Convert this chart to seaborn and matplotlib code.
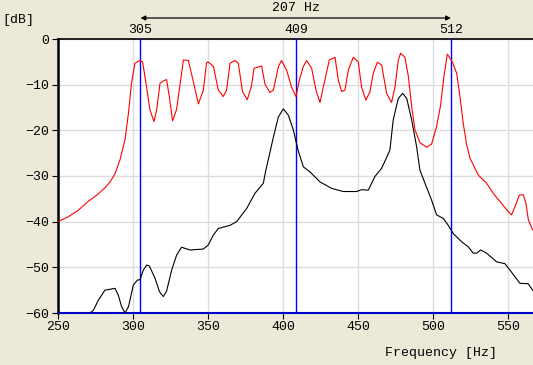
import numpy as np
import pandas as pd
import matplotlib
matplotlib.use("Agg")
import matplotlib.pyplot as plt
import matplotlib.transforms as mtransforms
import seaborn as sns

# ---- data ----
red_f = [250, 257, 263.5, 270, 275.8, 281, 284.7, 288, 291.3, 294.7,
         297, 299, 301.3, 304.7, 306.4, 309, 311.3, 314, 315.8, 318,
         321.3, 322.4, 324.2, 326.4, 329, 331.8, 333.6, 336.9, 340, 343.6,
         346.9, 349, 350, 353.6, 356.9, 360.2, 362.4, 364.7, 368, 370.2,
         373, 376.2, 379, 380.7, 385.8, 388, 391.3, 393.6, 396.9, 399,
         402.4, 405.8, 408.7, 410.9, 413.6, 415.8, 419.1, 422, 424.7, 426.9,
         430.9, 434.7, 436.9, 439.1, 441.3, 443.6, 446.9, 450.2, 452.4, 455.3,
         458, 460.2, 462.9, 465.8, 469.1, 472.4, 474.7, 476.9, 478.4, 481.3,
         483.6, 485.8, 488, 491.3, 495.8, 499.1, 502.4, 505.1, 507.3, 509.6,
         512.9, 515.8, 518, 520.2, 522.4, 524.7, 530.2, 535.8, 540.2, 544.7,
         550.2, 552.4, 554.7, 557.6, 560.2, 562, 563.6, 566.4]
red_db = [-40, -38.9, -37.5, -35.6, -34.2, -32.7, -31.3, -29.5, -26.5, -22,
          -16.2, -9.7, -5.3, -4.7, -5.0, -10.4, -15.5, -18.1, -15.5, -9.7,
          -9.0, -8.9, -12.6, -17.9, -15.5, -9.0, -4.6, -4.7, -9.0, -14.2,
          -11.2, -5.3, -5.0, -6.0, -11.2, -12.6, -11.2, -5.3, -4.7, -5.3,
          -11.5, -13.3, -10.3, -6.4, -5.9, -9.9, -11.7, -11.2, -6.1, -4.7,
          -6.8, -10.6, -12.6, -9.0, -6.0, -4.7, -6.4, -11.2, -13.9, -10.5,
          -4.6, -4.0, -9.0, -11.5, -11.2, -6.8, -4.0, -5.0, -10.5, -13.4,
          -11.5, -7.5, -5.1, -5.7, -11.9, -13.9, -10.5, -4.6, -3.1, -4.0,
          -8.2, -14.8, -19.9, -22.7, -23.7, -23.0, -19.2, -14.5, -8.2, -3.3,
          -5.0, -7.5, -12.6, -18.5, -23.0, -26.1, -29.8, -31.6, -33.8, -35.6,
          -37.8, -38.5, -36.7, -34.2, -34.1, -36.0, -39.6, -41.8]

black_f = [250, 252.5, 262, 271.3, 273.6, 276.9, 281.3, 284.7, 288, 290.2,
           292.4, 294.7, 297, 300.2, 302.9, 304.7, 306.9, 309.1, 310.9, 314.7,
           317.6, 320.2, 322.4, 325.8, 329.1, 332.4, 338, 346.9, 350.2, 353.6,
           356.9, 364.7, 369.1, 375.8, 381.3, 386.9, 388.4, 390.5, 393.6, 396.9,
           400.2, 403.6, 406.9, 410.2, 413.6, 418, 424.7, 432.4, 440.2, 449.1,
           452.4, 456.9, 461.3, 465.8, 469.3, 471.3, 473.5, 476.9, 479.8, 482.5,
           485.8, 489.1, 491.3, 494.7, 499.1, 502.4, 506.9, 510.2, 513.5, 519.1,
           523.5, 526.9, 529.1, 531.8, 535.8, 542.5, 548, 551.3, 558, 563.5,
           566.5, 568]
black_db = [-59, -62, -63, -60, -59.4, -57.2, -55, -54.8, -54.6, -56.1,
            -58.6, -60, -58.6, -53.9, -52.8, -52.7, -50.6, -49.5, -49.7, -52.4,
            -55.3, -56.4, -55.2, -50.6, -47.3, -45.6, -46.2, -46, -45.1, -42.9,
            -41.5, -40.8, -40.0, -37.1, -33.8, -31.6, -29, -26, -21.5, -17.1,
            -15.3, -16.7, -19.9, -24.5, -28, -29.1, -31.3, -32.7, -33.4, -33.4,
            -33.0, -33.1, -30.1, -28.3, -25.8, -24.3, -17.7, -13, -11.9, -13,
            -17.7, -23.6, -28.7, -31.6, -35.3, -38.5, -39.3, -40.8, -42.6, -44.4,
            -45.5, -46.9, -46.9, -46.2, -46.9, -48.8, -49.2, -50.6, -53.5, -53.6,
            -55, -55.5]

marker_hz = [305, 409, 512]
marker_labels = ["305", "409", "512"]
span_label = "207 Hz"
x_ticks = [250, 300, 350, 400, 450, 500, 550]
y_ticks = [0, -10, -20, -30, -40, -50, -60]
x_label = "Frequency [Hz]"
y_label = "[dB]"

# ---- style ----
sns.set_style("whitegrid")
bg = "#ECE9D8"
font = ["Liberation Mono", "DejaVu Sans Mono"]
plt.rcParams["font.family"] = font
plt.rcParams["axes.unicode_minus"] = True

fig = plt.figure(figsize=(5.33, 3.65), dpi=100, facecolor=bg)
ax = fig.add_axes([58 / 533, 52 / 365, 475 / 533, 274 / 365])
ax.set_facecolor("white")

red_df = pd.DataFrame({"f": red_f, "db": red_db})
black_df = pd.DataFrame({"f": black_f, "db": black_db})

ax.grid(True, color="#DCDCDC", linewidth=1.0)
for h in marker_hz:
    ax.axvline(h, color="#0000FF", linewidth=1.0, zorder=3)
sns.lineplot(data=black_df, x="f", y="db", color="black", linewidth=0.8,
             ax=ax, zorder=4, estimator=None, sort=False)
sns.lineplot(data=red_df, x="f", y="db", color="#FF0000", linewidth=0.8,
             ax=ax, zorder=5, estimator=None, sort=False)

ax.set_xlim(250, 566.7)
ax.set_ylim(-60, 0)
ax.set_xticks(x_ticks)
ax.set_yticks(y_ticks)
ax.set_xlabel("")
ax.set_ylabel("")
ax.tick_params(axis="both", which="both", length=4, width=0.8, color="black",
               labelsize=9.5, labelcolor="black", direction="out", pad=2,
               bottom=True, left=True)

for s in ["left", "top"]:
    ax.spines[s].set_visible(True)
    ax.spines[s].set_color("black")
ax.spines["left"].set_linewidth(1.8)
ax.spines["top"].set_linewidth(1.2)
ax.spines["bottom"].set_color("#0000C8")
ax.spines["bottom"].set_linewidth(1.5)
ax.spines["right"].set_visible(False)

# ---- header annotations ----
trans = mtransforms.blended_transform_factory(ax.transData, ax.transAxes)
for h, lab in zip(marker_hz, marker_labels):
    ax.text(h, 1.012, lab, transform=trans, ha="center", va="bottom",
            fontsize=9.5, color="black", clip_on=False)
ax.annotate("", xy=(marker_hz[0], 1.0766), xytext=(marker_hz[-1], 1.0766),
            xycoords=trans, textcoords=trans,
            arrowprops=dict(arrowstyle="<|-|>", color="black", lw=0.9,
                            shrinkA=0, shrinkB=0, mutation_scale=7))
ax.text((marker_hz[0] + marker_hz[-1]) / 2, 1.09, span_label, transform=trans,
        ha="center", va="bottom", fontsize=9.5, color="black")

fig.text(18 / 533, 1 - 20 / 365, y_label, ha="center", va="center",
         fontsize=9.5, color="black")
fig.text(441 / 533, 1 - 353 / 365, x_label, ha="center", va="center",
         fontsize=9.5, color="black")

fig.savefig("out.png", dpi=100, facecolor=bg)
